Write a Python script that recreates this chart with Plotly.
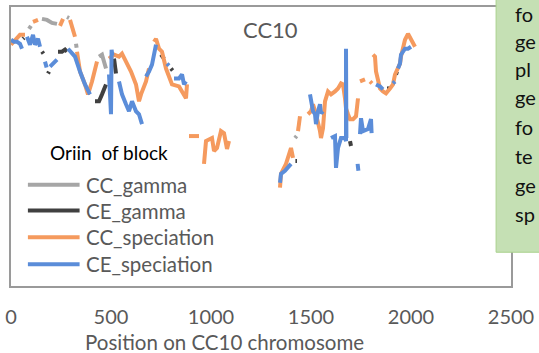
import plotly.graph_objects as go

# ---------------- data ----------------
# CC curve (origin: g = gamma, s = speciation, "-" = no block)
cc_pos = [0, 30, 45, 70, 90, 100, 110, 135, 155, 180, 205, 230, 245, 260, 280, 290,
          295, 305, 310, 320, 325, 328, 330, 345, 370, 385, 405, 430, 440, 455, 475,
          490, 515, 540, 555, 575, 600, 625, 640, 650, 675, 690, 700, 705,
          715, 725, 740, 755, 775, 805, 840, 865, 875, 880,
          885, 890, 940, 950,
          965, 975, 1005, 1015, 1030, 1050, 1065, 1080, 1090, 1200,
          1345, 1350, 1375, 1395, 1400, 1410, 1415, 1420, 1428, 1435, 1445, 1465,
          1485, 1500, 1510, 1525, 1545, 1550, 1560, 1570, 1585, 1600, 1620, 1635,
          1650, 1660, 1670, 1675, 1685, 1695, 1710, 1725, 1735, 1740,
          1745, 1770, 1785, 1795, 1805, 1808,
          1810, 1820, 1825, 1835, 1845, 1860, 1875, 1895, 1910, 1920, 1935, 1945,
          1950, 1960, 1970, 1985, 2000, 2020]
cc_val = [243, 249, 253, 253, 259, 262, 266, 268, 269, 268, 265, 264, 262, 269, 271, 270,
          268, 261, 256, 251, 244, 240, 236, 216, 203, 193, 206, 226, 231, 233, 219,
          229, 233, 231, 234, 226, 216, 203, 186, 193, 206, 219, 223, 223,
          246, 249, 239, 236, 219, 203, 201, 193, 189, 203,
          None, 151, 151, None,
          123, 146, 149, 136, 139, 156, 154, 138, 146, None,
          99, 113, 123, 134, 139, 129, None, 149, 151, 156, 171, None,
          173, 176, 183, 173, 156, 149, 159, 186, 196, 193, 196, 199,
          204, 203, 189, 179, 173, 168, 168, 171, 189, None,
          206, 208, None, 206, 204, None,
          233, 231, 216, 206, 199, 196, 194, 199, 203, 213, 219, 224,
          231, 239, 248, 254, 249, 241]
cc_orig = (["s"] * 4 + ["g"] * 2 + ["s"] * 2 + ["g"] * 4 + ["s"] * 2 + ["g"] * 2
           + ["s"] * 4 + ["g"] * 2 + ["s"] * 6 + ["g"] * 3 + ["s"] * 11 + ["g"] * 2
           + ["s"] * 10
           + ["-"] + ["s"] * 2 + ["-"]
           + ["s"] * 9 + ["-"]
           + ["s"] * 6 + ["-"] + ["g"] * 2 + ["s"] * 2 + ["-"]
           + ["s"] * 21 + ["-"]
           + ["s"] * 2 + ["-"] + ["s"] * 2 + ["-"]
           + ["s"] * 18)

# CE curve
ce_pos = [0, 15, 30, 45, 55, 60, 65, 80, 95, 110, 120, 135, 145, 155, 162, 166,
          170, 178, 185, 190, 195, 210, 230, 232, 235, 255, 270, 280,
          285, 305, 320, 345, 370, 395, 420, 440, 455, 475,
          490, 497, 500, 503, 507, 515, 525,
          540, 555, 575, 590, 605, 625, 640, 655, 665,
          675, 690, 705, 715, 725, 750, 765, 780, 790, 800, 808,
          815, 840, 855, 865, 875, 1000,
          1345, 1350, 1370, 1385, 1400, 1410, 1422, 1430, 1460,
          1495, 1500, 1510, 1520, 1525, 1535, 1545, 1550, 1560, 1580,
          1600, 1620, 1625, 1635, 1650, 1670, 1675, 1675, 1677, 1695, 1700, 1720,
          1733, 1737, 1740, 1745, 1750, 1760, 1785, 1800, 1803, 1815,
          1825, 1845, 1860, 1880, 1895, 1910, 1920, 1925, 1930,
          1935, 1945, 1950, 1970, 1985, 2000]
ce_val = [248, 246, 246, 244, 239, 249, 250, 251, 243, 253, 243, 249, 241, 236, 234, None,
          226, 220, 214, 216, 221, 224, 228, None, 236, 236, 238, 236,
          239, 234, 231, 216, 203, 193, 186, 186, 193, 203,
          213, 173, 173, 238, 232, 229, 214,
          206, 193, 183, 176, 186, 176, 173, 163, None,
          211, 216, 223, 236, 243, 233, 229, 224, 222, 219, 217,
          209, 209, 213, 203, 206, None,
          104, 113, 116, 119, 123, None, 126, 126, None,
          193, 186, 176, 173, 163, 176, 183, 174, 176, None,
          149, 151, 119, 139, 149, 149, 146, 239, 149, 146, 141, None,
          123, 116, None, 153, 169, 156, 158, 168, 154, None,
          203, 201, 198, 199, 199, 204, 206, 213, 216,
          219, 224, 233, 239, 239, 241]
ce_orig = (["s"] * 5 + ["g"] * 2 + ["s"] * 6 + ["g"] * 2 + ["-"]
           + ["s"] * 2 + ["g"] * 2 + ["s"] * 3 + ["-"] + ["g"] * 4
           + ["s"] * 6 + ["g"] * 4
           + ["s"] * 5 + ["g"] * 2
           + ["s"] * 8 + ["-"]
           + ["s"] * 5 + ["g"] * 2 + ["s"] * 2 + ["g"] * 2
           + ["s"] * 5 + ["-"]
           + ["s"] * 5 + ["-"] + ["g"] * 2 + ["-"]
           + ["s"] * 9 + ["-"]
           + ["s"] * 9 + ["g"] * 2 + ["-"]
           + ["s"] * 2 + ["-"] + ["s"] * 6 + ["-"]
           + ["s"] * 3 + ["g"] * 2 + ["s"] * 2 + ["g"] * 2
           + ["s"] * 6)

series_names = ["CC_gamma", "CE_gamma", "CC_speciation", "CE_speciation"]
series_colors = ["#A6A6A6", "#404040", "#F59A5E", "#5B8DD9"]
x_ticks = [0, 500, 1000, 1500, 2000, 2500]
side_text = ["fo", "ge", "pl", "ge", "fo", "te", "ge", "sp"]


def pick(vals, orig, key):
    return [v if (o == key and v is not None) else None for v, o in zip(vals, orig)]


curves = [(cc_pos, cc_val, cc_orig, "g"), (ce_pos, ce_val, ce_orig, "g"),
          (cc_pos, cc_val, cc_orig, "s"), (ce_pos, ce_val, ce_orig, "s")]

fig = go.Figure()
for (pos, val, orig, key), name, col in zip(curves, series_names, series_colors):
    fig.add_trace(go.Scatter(x=pos, y=pick(val, orig, key), mode="lines", name=name,
                             line=dict(color=col, width=4), connectgaps=False,
                             showlegend=False, hoverinfo="skip"))

font_fam = "Lato, 'Open Sans', sans-serif"
W, H = 539, 353
L, R, T, B = 11, 25, 5, 67
pw, ph = W - L - R, H - T - B


def px(xp):
    return (xp - L) / pw


def py(yp):
    return (H - B - yp) / ph


def note(text, xp, yp, size, color, anchor="center"):
    return dict(text=text, x=px(xp), y=py(yp), xref="paper", yref="paper",
                xanchor=anchor, yanchor="middle", showarrow=False,
                font=dict(size=size, color=color, family=font_fam))


annotations = [
    note("CC10", 272, 28, 22, "#595959"),
    note("Position on CC10 chromosome", 226, 342, 20.5, "#595959"),
    note("Oriin  of block", 48, 152, 19, "#000000", "left"),
]
shapes = []
leg_y = [184, 210, 237, 264]
for name, col, yy in zip(series_names, series_colors, leg_y):
    shapes.append(dict(type="line", xref="paper", yref="paper", x0=px(28), x1=px(80),
                       y0=py(yy), y1=py(yy), line=dict(color=col, width=4)))
    annotations.append(note(name, 84, yy, 20.5, "#595959", "left"))

# green side box
shapes.append(dict(type="rect", xref="paper", yref="paper", x0=px(499), x1=px(560),
                   y0=py(252), y1=py(-10), fillcolor="#C5E0B4",
                   line=dict(color="#A9D18E", width=1), layer="above"))
side_y = [12, 39, 67, 96, 126, 155, 184, 213]
for t, yy in zip(side_text, side_y):
    annotations.append(note(t, 516, yy, 20, "#111111", "left"))

fig.update_layout(
    width=W, height=H,
    margin=dict(l=L, r=R, t=T, b=B),
    paper_bgcolor="white", plot_bgcolor="white",
    showlegend=False,
    xaxis=dict(range=[0, 2500], tickvals=x_ticks, ticktext=[str(v) for v in x_ticks],
               showgrid=False, zeroline=False, showline=True, mirror=True,
               linecolor="#9A9A9A", linewidth=1.5, ticks="", ticklabelstandoff=12,
               tickfont=dict(size=20, color="#595959", family=font_fam)),
    yaxis=dict(range=[0, 281], showticklabels=False, showgrid=False, zeroline=False,
               showline=True, mirror=True, linecolor="#9A9A9A", linewidth=1.5, ticks=""),
    annotations=annotations,
    shapes=shapes,
)

fig.write_html("out.html", config={"displayModeBar": False},
               post_script="document.body.style.margin='0';")
